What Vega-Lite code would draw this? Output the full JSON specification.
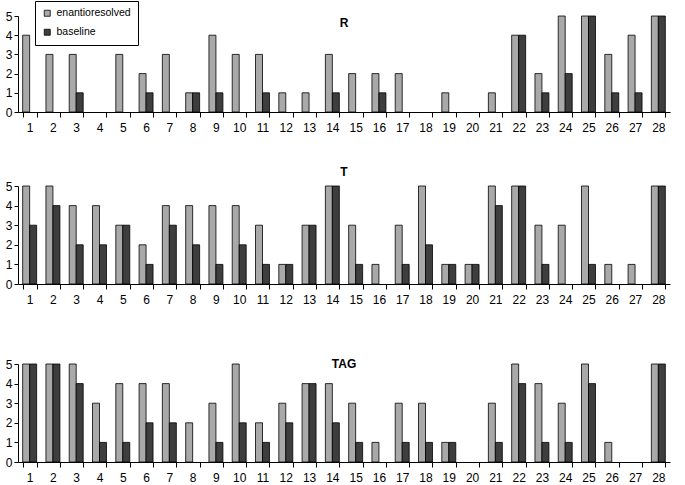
{
  "$schema": "https://vega.github.io/schema/vega-lite/v6.json",
  "padding": {"left": 5, "top": 0, "right": 5, "bottom": 5},
  "bounds": "flush",
  "spacing": 74,
  "config": {
    "font": "Liberation Sans",
    "view": {"stroke": null},
    "axis": {"labelFont": "Liberation Sans", "labelFontSize": 12, "labelColor": "#000", "domainColor": "#000", "tickColor": "#000", "grid": false, "title": null},
    "title": {"font": "Liberation Sans", "fontSize": 12, "fontWeight": "bold", "color": "#000", "anchor": "middle"},
    "legend": {"labelFont": "Liberation Sans", "labelFontSize": 10.5}
  },
  "data": {"values": [
    {"p":"R","n":1,"s":"enantioresolved","v":4},{"p":"R","n":1,"s":"baseline","v":0},
    {"p":"R","n":2,"s":"enantioresolved","v":3},{"p":"R","n":2,"s":"baseline","v":0},
    {"p":"R","n":3,"s":"enantioresolved","v":3},{"p":"R","n":3,"s":"baseline","v":1},
    {"p":"R","n":4,"s":"enantioresolved","v":0},{"p":"R","n":4,"s":"baseline","v":0},
    {"p":"R","n":5,"s":"enantioresolved","v":3},{"p":"R","n":5,"s":"baseline","v":0},
    {"p":"R","n":6,"s":"enantioresolved","v":2},{"p":"R","n":6,"s":"baseline","v":1},
    {"p":"R","n":7,"s":"enantioresolved","v":3},{"p":"R","n":7,"s":"baseline","v":0},
    {"p":"R","n":8,"s":"enantioresolved","v":1},{"p":"R","n":8,"s":"baseline","v":1},
    {"p":"R","n":9,"s":"enantioresolved","v":4},{"p":"R","n":9,"s":"baseline","v":1},
    {"p":"R","n":10,"s":"enantioresolved","v":3},{"p":"R","n":10,"s":"baseline","v":0},
    {"p":"R","n":11,"s":"enantioresolved","v":3},{"p":"R","n":11,"s":"baseline","v":1},
    {"p":"R","n":12,"s":"enantioresolved","v":1},{"p":"R","n":12,"s":"baseline","v":0},
    {"p":"R","n":13,"s":"enantioresolved","v":1},{"p":"R","n":13,"s":"baseline","v":0},
    {"p":"R","n":14,"s":"enantioresolved","v":3},{"p":"R","n":14,"s":"baseline","v":1},
    {"p":"R","n":15,"s":"enantioresolved","v":2},{"p":"R","n":15,"s":"baseline","v":0},
    {"p":"R","n":16,"s":"enantioresolved","v":2},{"p":"R","n":16,"s":"baseline","v":1},
    {"p":"R","n":17,"s":"enantioresolved","v":2},{"p":"R","n":17,"s":"baseline","v":0},
    {"p":"R","n":18,"s":"enantioresolved","v":0},{"p":"R","n":18,"s":"baseline","v":0},
    {"p":"R","n":19,"s":"enantioresolved","v":1},{"p":"R","n":19,"s":"baseline","v":0},
    {"p":"R","n":20,"s":"enantioresolved","v":0},{"p":"R","n":20,"s":"baseline","v":0},
    {"p":"R","n":21,"s":"enantioresolved","v":1},{"p":"R","n":21,"s":"baseline","v":0},
    {"p":"R","n":22,"s":"enantioresolved","v":4},{"p":"R","n":22,"s":"baseline","v":4},
    {"p":"R","n":23,"s":"enantioresolved","v":2},{"p":"R","n":23,"s":"baseline","v":1},
    {"p":"R","n":24,"s":"enantioresolved","v":5},{"p":"R","n":24,"s":"baseline","v":2},
    {"p":"R","n":25,"s":"enantioresolved","v":5},{"p":"R","n":25,"s":"baseline","v":5},
    {"p":"R","n":26,"s":"enantioresolved","v":3},{"p":"R","n":26,"s":"baseline","v":1},
    {"p":"R","n":27,"s":"enantioresolved","v":4},{"p":"R","n":27,"s":"baseline","v":1},
    {"p":"R","n":28,"s":"enantioresolved","v":5},{"p":"R","n":28,"s":"baseline","v":5},
    {"p":"T","n":1,"s":"enantioresolved","v":5},{"p":"T","n":1,"s":"baseline","v":3},
    {"p":"T","n":2,"s":"enantioresolved","v":5},{"p":"T","n":2,"s":"baseline","v":4},
    {"p":"T","n":3,"s":"enantioresolved","v":4},{"p":"T","n":3,"s":"baseline","v":2},
    {"p":"T","n":4,"s":"enantioresolved","v":4},{"p":"T","n":4,"s":"baseline","v":2},
    {"p":"T","n":5,"s":"enantioresolved","v":3},{"p":"T","n":5,"s":"baseline","v":3},
    {"p":"T","n":6,"s":"enantioresolved","v":2},{"p":"T","n":6,"s":"baseline","v":1},
    {"p":"T","n":7,"s":"enantioresolved","v":4},{"p":"T","n":7,"s":"baseline","v":3},
    {"p":"T","n":8,"s":"enantioresolved","v":4},{"p":"T","n":8,"s":"baseline","v":2},
    {"p":"T","n":9,"s":"enantioresolved","v":4},{"p":"T","n":9,"s":"baseline","v":1},
    {"p":"T","n":10,"s":"enantioresolved","v":4},{"p":"T","n":10,"s":"baseline","v":2},
    {"p":"T","n":11,"s":"enantioresolved","v":3},{"p":"T","n":11,"s":"baseline","v":1},
    {"p":"T","n":12,"s":"enantioresolved","v":1},{"p":"T","n":12,"s":"baseline","v":1},
    {"p":"T","n":13,"s":"enantioresolved","v":3},{"p":"T","n":13,"s":"baseline","v":3},
    {"p":"T","n":14,"s":"enantioresolved","v":5},{"p":"T","n":14,"s":"baseline","v":5},
    {"p":"T","n":15,"s":"enantioresolved","v":3},{"p":"T","n":15,"s":"baseline","v":1},
    {"p":"T","n":16,"s":"enantioresolved","v":1},{"p":"T","n":16,"s":"baseline","v":0},
    {"p":"T","n":17,"s":"enantioresolved","v":3},{"p":"T","n":17,"s":"baseline","v":1},
    {"p":"T","n":18,"s":"enantioresolved","v":5},{"p":"T","n":18,"s":"baseline","v":2},
    {"p":"T","n":19,"s":"enantioresolved","v":1},{"p":"T","n":19,"s":"baseline","v":1},
    {"p":"T","n":20,"s":"enantioresolved","v":1},{"p":"T","n":20,"s":"baseline","v":1},
    {"p":"T","n":21,"s":"enantioresolved","v":5},{"p":"T","n":21,"s":"baseline","v":4},
    {"p":"T","n":22,"s":"enantioresolved","v":5},{"p":"T","n":22,"s":"baseline","v":5},
    {"p":"T","n":23,"s":"enantioresolved","v":3},{"p":"T","n":23,"s":"baseline","v":1},
    {"p":"T","n":24,"s":"enantioresolved","v":3},{"p":"T","n":24,"s":"baseline","v":0},
    {"p":"T","n":25,"s":"enantioresolved","v":5},{"p":"T","n":25,"s":"baseline","v":1},
    {"p":"T","n":26,"s":"enantioresolved","v":1},{"p":"T","n":26,"s":"baseline","v":0},
    {"p":"T","n":27,"s":"enantioresolved","v":1},{"p":"T","n":27,"s":"baseline","v":0},
    {"p":"T","n":28,"s":"enantioresolved","v":5},{"p":"T","n":28,"s":"baseline","v":5},
    {"p":"TAG","n":1,"s":"enantioresolved","v":5},{"p":"TAG","n":1,"s":"baseline","v":5},
    {"p":"TAG","n":2,"s":"enantioresolved","v":5},{"p":"TAG","n":2,"s":"baseline","v":5},
    {"p":"TAG","n":3,"s":"enantioresolved","v":5},{"p":"TAG","n":3,"s":"baseline","v":4},
    {"p":"TAG","n":4,"s":"enantioresolved","v":3},{"p":"TAG","n":4,"s":"baseline","v":1},
    {"p":"TAG","n":5,"s":"enantioresolved","v":4},{"p":"TAG","n":5,"s":"baseline","v":1},
    {"p":"TAG","n":6,"s":"enantioresolved","v":4},{"p":"TAG","n":6,"s":"baseline","v":2},
    {"p":"TAG","n":7,"s":"enantioresolved","v":4},{"p":"TAG","n":7,"s":"baseline","v":2},
    {"p":"TAG","n":8,"s":"enantioresolved","v":2},{"p":"TAG","n":8,"s":"baseline","v":0},
    {"p":"TAG","n":9,"s":"enantioresolved","v":3},{"p":"TAG","n":9,"s":"baseline","v":1},
    {"p":"TAG","n":10,"s":"enantioresolved","v":5},{"p":"TAG","n":10,"s":"baseline","v":2},
    {"p":"TAG","n":11,"s":"enantioresolved","v":2},{"p":"TAG","n":11,"s":"baseline","v":1},
    {"p":"TAG","n":12,"s":"enantioresolved","v":3},{"p":"TAG","n":12,"s":"baseline","v":2},
    {"p":"TAG","n":13,"s":"enantioresolved","v":4},{"p":"TAG","n":13,"s":"baseline","v":4},
    {"p":"TAG","n":14,"s":"enantioresolved","v":4},{"p":"TAG","n":14,"s":"baseline","v":2},
    {"p":"TAG","n":15,"s":"enantioresolved","v":3},{"p":"TAG","n":15,"s":"baseline","v":1},
    {"p":"TAG","n":16,"s":"enantioresolved","v":1},{"p":"TAG","n":16,"s":"baseline","v":0},
    {"p":"TAG","n":17,"s":"enantioresolved","v":3},{"p":"TAG","n":17,"s":"baseline","v":1},
    {"p":"TAG","n":18,"s":"enantioresolved","v":3},{"p":"TAG","n":18,"s":"baseline","v":1},
    {"p":"TAG","n":19,"s":"enantioresolved","v":1},{"p":"TAG","n":19,"s":"baseline","v":1},
    {"p":"TAG","n":20,"s":"enantioresolved","v":0},{"p":"TAG","n":20,"s":"baseline","v":0},
    {"p":"TAG","n":21,"s":"enantioresolved","v":3},{"p":"TAG","n":21,"s":"baseline","v":1},
    {"p":"TAG","n":22,"s":"enantioresolved","v":5},{"p":"TAG","n":22,"s":"baseline","v":4},
    {"p":"TAG","n":23,"s":"enantioresolved","v":4},{"p":"TAG","n":23,"s":"baseline","v":1},
    {"p":"TAG","n":24,"s":"enantioresolved","v":3},{"p":"TAG","n":24,"s":"baseline","v":1},
    {"p":"TAG","n":25,"s":"enantioresolved","v":5},{"p":"TAG","n":25,"s":"baseline","v":4},
    {"p":"TAG","n":26,"s":"enantioresolved","v":1},{"p":"TAG","n":26,"s":"baseline","v":0},
    {"p":"TAG","n":27,"s":"enantioresolved","v":0},{"p":"TAG","n":27,"s":"baseline","v":0},
    {"p":"TAG","n":28,"s":"enantioresolved","v":5},{"p":"TAG","n":28,"s":"baseline","v":5}
  ]},
  "vconcat": [
    {
      "width": 652, "height": 96,
      "title": {"text": "R", "offset": -20},
      "transform": [{"filter": "datum.p === 'R'"}],
      "mark": {"type": "bar", "stroke": "#000", "strokeWidth": 0.8},
      "encoding": {
        "x": {"field": "n", "type": "ordinal", "scale": {"paddingInner": 0.4, "paddingOuter": 0.2}, "axis": {"labelAngle": 0, "tickBand": "extent", "labelPadding": 5}},
        "xOffset": {"field": "s", "type": "nominal", "sort": ["enantioresolved", "baseline"]},
        "y": {"field": "v", "type": "quantitative", "scale": {"domain": [0, 5]}, "axis": {"values": [0,1,2,3,4,5], "tickSize": 4}},
        "strokeOpacity": {"condition": {"test": "datum.v === 0", "value": 0}, "value": 1},
        "color": {"field": "s", "type": "nominal", "sort": ["enantioresolved", "baseline"], "scale": {"domain": ["enantioresolved", "baseline"], "range": ["#a9a9a9", "#3e3e3e"]},
          "legend": {"title": null, "orient": "none", "legendX": 17, "legendY": -15, "strokeColor": "#000", "padding": 7, "symbolType": "square", "symbolSize": 36, "symbolStrokeColor": "#000", "symbolStrokeWidth": 0.8, "rowPadding": 8, "labelOffset": 4}}
      }
    },
    {
      "bounds": "flush",
      "spacing": 80,
      "vconcat": [
        {
          "width": 652, "height": 98,
          "title": {"text": "T", "offset": 1},
          "transform": [{"filter": "datum.p === 'T'"}],
          "mark": {"type": "bar", "stroke": "#000", "strokeWidth": 0.8},
          "encoding": {
            "x": {"field": "n", "type": "ordinal", "scale": {"paddingInner": 0.4, "paddingOuter": 0.2}, "axis": {"labelAngle": 0, "tickBand": "extent", "labelPadding": 5}},
            "xOffset": {"field": "s", "type": "nominal", "sort": ["enantioresolved", "baseline"]},
            "y": {"field": "v", "type": "quantitative", "scale": {"domain": [0, 5]}, "axis": {"values": [0,1,2,3,4,5], "tickSize": 4}},
            "strokeOpacity": {"condition": {"test": "datum.v === 0", "value": 0}, "value": 1},
            "color": {"field": "s", "type": "nominal", "sort": ["enantioresolved", "baseline"]}
          }
        },
        {
          "width": 652, "height": 98,
          "title": {"text": "TAG", "offset": -13},
          "transform": [{"filter": "datum.p === 'TAG'"}],
          "mark": {"type": "bar", "stroke": "#000", "strokeWidth": 0.8},
          "encoding": {
            "x": {"field": "n", "type": "ordinal", "scale": {"paddingInner": 0.4, "paddingOuter": 0.2}, "axis": {"labelAngle": 0, "tickBand": "extent", "labelPadding": 5}},
            "xOffset": {"field": "s", "type": "nominal", "sort": ["enantioresolved", "baseline"]},
            "y": {"field": "v", "type": "quantitative", "scale": {"domain": [0, 5]}, "axis": {"values": [0,1,2,3,4,5], "tickSize": 4}},
            "strokeOpacity": {"condition": {"test": "datum.v === 0", "value": 0}, "value": 1},
            "color": {"field": "s", "type": "nominal", "sort": ["enantioresolved", "baseline"]}
          }
        }
      ]
    }
  ]
}
